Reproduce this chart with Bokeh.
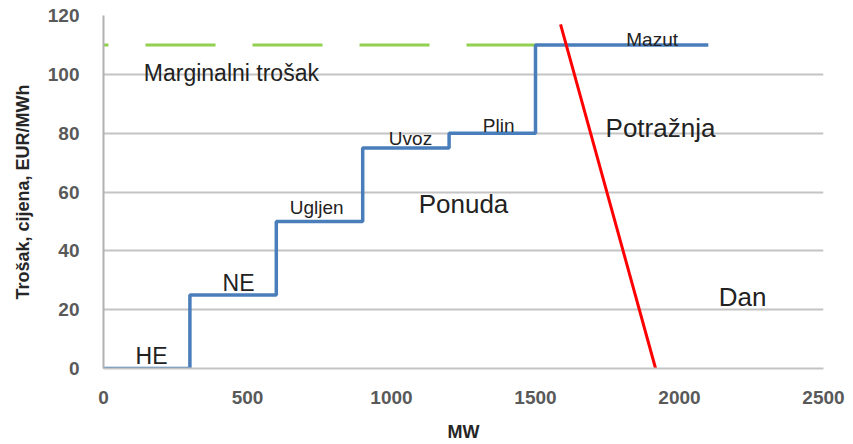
from bokeh.plotting import figure
from bokeh.models import Range1d, ColumnDataSource, FixedTicker
from bokeh.core.properties import value
from bokeh.embed import file_html
from bokeh.resources import INLINE

# supply curve (step points)
supply_mw = [0, 300, 600, 900, 1200, 1500, 2100]
supply_price = [0, 25, 50, 75, 80, 110, 110]

# marginal cost line
marginal_mw = [0, 1500]
marginal_price = [110, 110]

# demand line
demand_mw = [1587, 1917]
demand_price = [117, 0]

x_ticks = [0, 500, 1000, 1500, 2000, 2500]
y_ticks = [0, 20, 40, 60, 80, 100, 120]

small_labels = ["Ugljen", "Uvoz", "Plin", "Mazut"]
small_x = [740, 1066, 1372, 1905]
small_y = [54.6, 78.3, 82.7, 111.9]

mid_labels = ["HE", "NE"]
mid_x = [167, 469]
mid_y = [4.4, 29.2]

big_labels = ["Ponuda", "Potražnja", "Dan"]
big_x = [1250, 1934, 2219]
big_y = [55.9, 81.7, 24.4]

marg_label = ["Marginalni trošak"]
marg_x = [444]
marg_y = [100.3]

FONT = "Liberation Sans"

p = figure(width=853, height=444, output_backend="svg", toolbar_location=None,
           x_range=Range1d(0, 2500), y_range=Range1d(0, 120),
           min_border_left=103, min_border_right=30, min_border_top=15,
           min_border_bottom=75)
p.outline_line_color = None
p.background_fill_color = "white"
p.border_fill_color = "white"

p.xgrid.grid_line_color = None
p.ygrid.grid_line_color = "#c4c4c4"
p.ygrid.grid_line_width = 2
p.ygrid.ticker = FixedTicker(ticks=y_ticks)

p.xaxis.ticker = FixedTicker(ticks=x_ticks)
p.yaxis.ticker = FixedTicker(ticks=y_ticks)
for ax in (p.xaxis[0], p.yaxis[0]):
    ax.major_tick_line_color = None
    ax.minor_tick_line_color = None
    ax.major_tick_out = 0
    ax.major_tick_in = 0
    ax.major_label_text_font = FONT
    ax.major_label_text_font_style = "bold"
    ax.major_label_text_font_size = "19px"
    ax.major_label_text_color = "#595959"
    ax.axis_label_text_font = FONT
    ax.axis_label_text_font_style = "bold"
    ax.axis_label_text_color = "#262626"

p.xaxis.axis_line_color = "#c4c4c4"
p.xaxis.axis_line_width = 2
p.yaxis.axis_line_color = "#b0b0b0"
p.yaxis.axis_line_width = 2
p.xaxis.major_label_standoff = 22
p.yaxis.major_label_standoff = 24
p.xaxis.axis_label = "MW"
p.xaxis.axis_label_text_font_size = "18px"
p.xaxis.axis_label_standoff = 15
p.yaxis.axis_label = "Trošak, cijena, EUR/MWh"
p.yaxis.axis_label_text_font_size = "18px"
p.yaxis.axis_label_standoff = 12

p.line(marginal_mw, marginal_price, line_color="#92d050", line_width=3,
       line_dash="70 37", line_dash_offset=65)
p.step(supply_mw, supply_price, mode="after", line_color="#4a7ebb", line_width=3.5)
p.line(demand_mw, demand_price, line_color="#ff0000", line_width=3)

def add_text(labels, xs, ys, size):
    src = ColumnDataSource(dict(x=xs, y=ys, t=labels))
    p.text(x="x", y="y", text="t", source=src, text_font=value(FONT),
           text_font_size=size, text_color="#222222", text_align="center",
           text_baseline="alphabetic")

add_text(small_labels, small_x, small_y, "19px")
add_text(mid_labels, mid_x, mid_y, "23px")
add_text(big_labels, big_x, big_y, "26px")
add_text(marg_label, marg_x, marg_y, "23px")

open("out.html", "w").write(file_html(p, INLINE))
